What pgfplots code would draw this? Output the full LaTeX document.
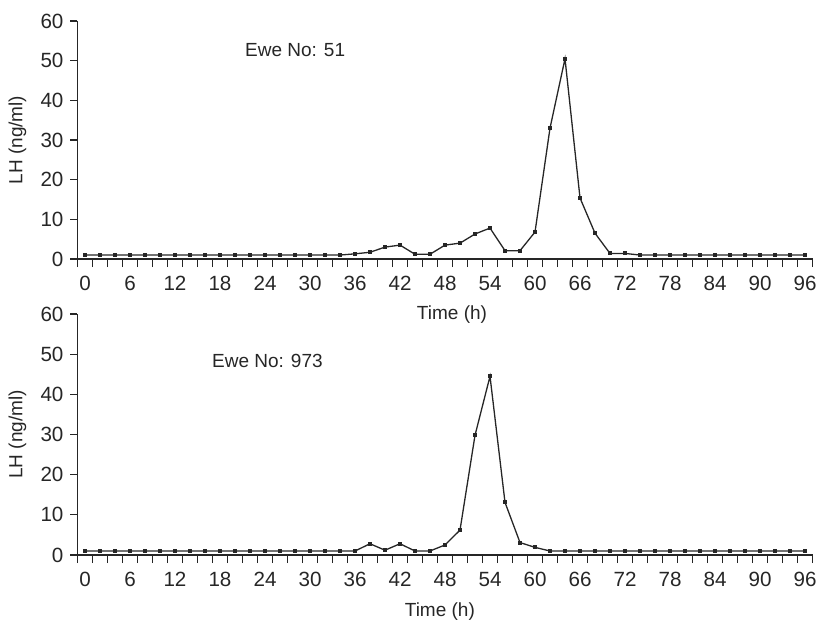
\documentclass[border=0pt]{standalone}
\usepackage{fontspec}
\setmainfont{Liberation Sans}
\usepackage{pgfplots}
\usepackage{pgfplotstable}
\pgfplotsset{compat=1.18}

% LH (ng/ml) sampled every 2 h
\pgfplotstableread{
t lh
0 1
2 1
4 1
6 1
8 1
10 1
12 1
14 1
16 1
18 1
20 1
22 1
24 1
26 1
28 1
30 1
32 1
34 1
36 1.3
38 1.7
40 3.0
42 3.5
44 1.2
46 1.2
48 3.5
50 4.0
52 6.3
54 7.8
56 2.1
58 2.1
60 6.8
62 33.0
64 50.5
66 15.4
68 6.5
70 1.4
72 1.4
74 1
76 1
78 1
80 1
82 1
84 1
86 1
88 1
90 1
92 1
94 1
96 1
}\eweA

\pgfplotstableread{
t lh
0 1
2 1
4 1
6 1
8 1
10 1
12 1
14 1
16 1
18 1
20 1
22 1
24 1
26 1
28 1
30 1
32 1
34 1
36 1
38 2.8
40 1.2
42 2.8
44 1
46 1
48 2.5
50 6.2
52 29.8
54 44.5
56 13.1
58 3.1
60 1.9
62 1
64 1
66 1
68 1
70 1
72 1
74 1
76 1
78 1
80 1
82 1
84 1
86 1
88 1
90 1
92 1
94 1
96 1
}\eweB

\definecolor{ink}{HTML}{262626}

\pgfplotsset{lhpanel/.style={
  scale only axis, width=367.5pt,
  xmin=-1, xmax=97, ymin=0, ymax=60,
  axis lines=left, axis line style={-, line width=0.6pt, color=ink},
  xtick={0,6,...,96}, minor xtick={-1,1,...,97},
  ytick={0,10,...,60},
  tick align=outside,
  major x tick style={draw=none},
  minor tick length=4pt, major tick length=3.5pt,
  tick style={line width=0.6pt, color=ink},
  tick label style={font=\fontsize{10.3}{12}\selectfont, text=ink},
  xticklabel style={yshift=-1.5pt},
  /pgf/number format/assume math mode=true,
  ylabel={LH (ng/ml)}, xlabel={Time (h)},
  every axis y label/.style={at={(axis description cs:-0.0816,0.5)}, rotate=90, anchor=center,
    font=\fontsize{9.5}{11}\selectfont, text=ink},
  clip=false,
}}

\begin{document}
\begin{tikzpicture}
\useasboundingbox (-38.75pt,-181pt) rectangle (370.25pt,129.5pt);
\begin{axis}[lhpanel, height=119pt,
  every axis x label/.style={at={(axis description cs:0.5095,-0.232)}, anchor=center,
    font=\fontsize{9.5}{11}\selectfont, text=ink}]
\addplot[ink, line width=0.65pt, mark=square*, mark size=0.7pt] table[x=t, y=lh] {\eweA};
\node[anchor=west, inner sep=0pt, font=\fontsize{9.5}{11}\selectfont, text=ink] at (axis cs:21.3,52.7) {Ewe No: 51};
\end{axis}
\begin{axis}[lhpanel, height=120.5pt, at={(0pt,-148pt)},
  every axis x label/.style={at={(axis description cs:0.493,-0.234)}, anchor=center,
    font=\fontsize{9.5}{11}\selectfont, text=ink}]
\addplot[ink, line width=0.65pt, mark=square*, mark size=0.7pt] table[x=t, y=lh] {\eweB};
\node[anchor=west, inner sep=0pt, font=\fontsize{9.5}{11}\selectfont, text=ink] at (axis cs:16.9,48.2) {Ewe No: 973};
\end{axis}
\end{tikzpicture}
\end{document}
